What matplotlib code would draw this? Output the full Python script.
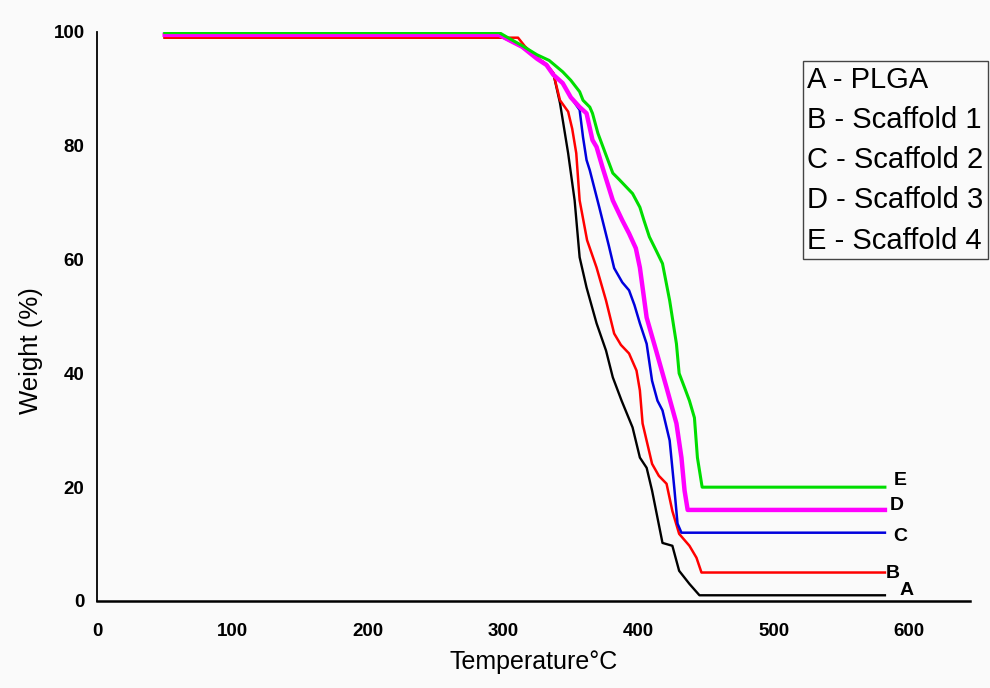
import matplotlib.pyplot as plt
from matplotlib.lines import Line2D

plt.rcParams['font.family'] = ['Liberation Sans', 'DejaVu Sans']

# TGA curves: temperature (°C) and weight (%)
temp_a = [50, 300, 314, 325, 332, 337, 342, 348, 352.8, 356.5, 361.6, 369, 376, 381, 387.5,
          395.6, 401, 406, 410, 417.7, 425, 430, 437.6, 445, 450, 582]
weight_a = [99.0, 99.0, 97.4, 95.5, 94.3, 92.8, 87.5, 78.7, 70.4, 60.4, 55.1, 48.8, 44, 39.3, 35.2,
            30.5, 25.2, 23.4, 19.4, 10.2, 9.7, 5.3, 3, 1, 1, 1]

temp_b = [50, 311, 316, 325, 332, 337, 342, 345, 348, 351, 354, 356.5, 362, 369, 376, 382, 387,
          393, 398.5, 401, 403, 410, 415, 420.7, 425, 430, 437.6, 442.8, 446.5, 582]
weight_b = [99.0, 99.0, 97.5, 95.5, 94.3, 92.8, 88, 87, 86, 83, 78.7, 70.4, 63.4, 58.6, 52.8, 47, 45,
            43.5, 40.5, 37, 31.2, 24.1, 22, 20.6, 15.8, 11.8, 9.7, 7.6, 5, 5]

temp_c = [50, 297, 305, 314, 325, 332, 337, 344, 350, 356.5, 359, 361.6, 364, 371, 378, 382, 388,
          393, 397, 401, 406, 410, 414, 417.7, 423, 426.6, 428.8, 431.7, 582]
weight_c = [99.5, 99.5, 98.5, 97.4, 95.3, 94.2, 92.5, 91, 88.5, 86.3, 81.5, 77.5, 75.7, 69.2, 62.5,
            58.5, 56, 54.6, 52, 48.8, 45.2, 38.7, 35.2, 33.5, 28.2, 19.4, 13.6, 12, 12]

temp_d = [50, 297, 305, 314, 325, 332, 337, 344, 350, 356.5, 361.6, 366, 369, 373.4, 381, 388, 393,
          398, 401, 406, 413, 420.7, 428, 431.7, 434, 436.3, 582]
weight_d = [99.5, 99.5, 98.5, 97.4, 95.3, 94.2, 92.5, 91, 88.5, 86.8, 85.7, 81, 79.8, 76.2, 70.4, 66.9,
            64.6, 62, 58.6, 49.8, 44, 37.5, 31.2, 25.2, 19.4, 16, 16]

temp_e = [50, 297, 305, 314, 325, 334, 344, 350, 356.5, 359, 364, 366, 370, 375, 381, 386, 395.6,
          401, 404, 408, 413, 417.7, 423, 428, 430, 434, 437.6, 441.3, 443.5, 447, 582]
weight_e = [99.9, 99.9, 98.8, 97.6, 96, 95, 93, 91.5, 89.5, 88, 86.8, 85.7, 82.2, 79, 75.2, 74, 71.6,
            69.2, 66.9, 64, 61.6, 59.3, 52.8, 45.2, 40, 37.5, 35.2, 32.2, 25.2, 20, 20]

curve_tags = ['A', 'B', 'C', 'D', 'E']
legend_labels = ['A - PLGA', 'B - Scaffold 1', 'C - Scaffold 2', 'D - Scaffold 3', 'E - Scaffold 4']

fig = plt.figure(figsize=(9.9, 6.88), dpi=100, facecolor='#fafafa')
ax = fig.add_axes([0.098, 0.1265, 0.882, 0.827], facecolor='#fafafa')

# draw order: black under red under blue under magenta under green
ax.plot(temp_a, weight_a, color='black', lw=1.7)
ax.plot(temp_b, weight_b, color='#ff0000', lw=1.8)
ax.plot(temp_c, weight_c, color='#0000dd', lw=1.8)
ax.plot(temp_d, weight_d, color='#ff00ff', lw=3.2)
ax.plot(temp_e, weight_e, color='#00dd00', lw=2.2)

# letters at the right end of each curve
tag_dx = [16, 6, 11, 9, 11]
tag_dy = [0.8, -0.1, -0.6, 0.7, 1.1]
ends = [(temp_a[-1], weight_a[-1]), (temp_b[-1], weight_b[-1]), (temp_c[-1], weight_c[-1]),
        (temp_d[-1], weight_d[-1]), (temp_e[-1], weight_e[-1])]
for tag, (x, y), dx, dy in zip(curve_tags, ends, tag_dx, tag_dy):
    ax.text(x + dx, y + dy, tag, fontsize=14, fontweight='bold', ha='center', va='center')

ax.set_xlim(0, 645)
ax.set_ylim(0, 100)
ax.set_xticks([0, 100, 200, 300, 400, 500, 600])
ax.set_yticks([0, 20, 40, 60, 80, 100])
ax.tick_params(length=0, labelsize=13.5)
ax.tick_params(axis='x', pad=16)
ax.tick_params(axis='y', pad=9)
for lab in ax.get_xticklabels() + ax.get_yticklabels():
    lab.set_fontweight('bold')

for side in ['top', 'right']:
    ax.spines[side].set_visible(False)
ax.spines['left'].set_linewidth(1.3)
ax.spines['bottom'].set_linewidth(1.8)

ax.set_xlabel('Temperature°C', fontsize=18, labelpad=7)
ax.set_ylabel('Weight (%)', fontsize=18.5)
ax.yaxis.set_label_coords(-0.062, 0.44)

handles = [Line2D([], [], linestyle='none') for _ in legend_labels]
leg = fig.legend(handles, legend_labels, loc='upper right', bbox_to_anchor=(0.998, 0.911),
                 fontsize=21, handlelength=0, handletextpad=0, labelspacing=0.42,
                 borderpad=0.15, borderaxespad=0, fancybox=False, framealpha=1)
leg.get_frame().set_edgecolor('#444444')
leg.get_frame().set_linewidth(1.0)
leg.get_frame().set_facecolor('#fafafa')

fig.savefig('out.png', dpi=100, facecolor=fig.get_facecolor())
